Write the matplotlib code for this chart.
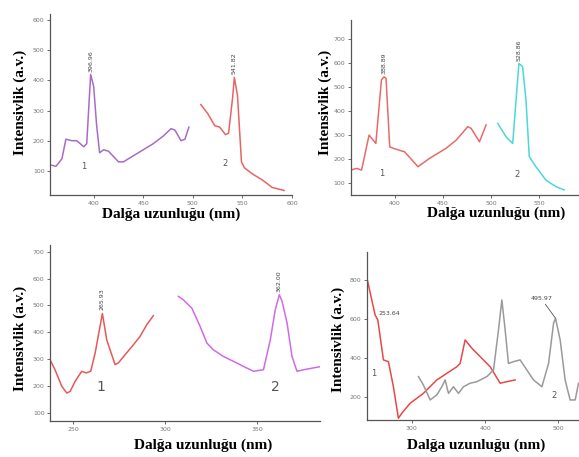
import matplotlib
matplotlib.use('Agg')
import matplotlib.pyplot as plt

# ── panel (a): two bands ──
a1_x = [356, 362, 368, 372, 378, 383, 390, 393, 396.96, 400, 403, 406, 410, 415,
        425, 430, 440, 460, 470, 478, 482, 488, 492, 496]
a1_y = [120, 115, 140, 205, 200, 200, 180, 190, 420, 380, 250, 160, 170, 165,
        130, 130, 150, 190, 215, 240, 235, 200, 205, 245]
a2_x = [508, 515, 522, 527, 533, 536, 540, 541.82, 545, 549, 552, 560, 570, 580, 592]
a2_y = [320, 290, 250, 245, 220, 225, 340, 410, 350, 130, 110, 90, 70, 45, 35]

# ── panel (b) ──
b1_x = [354.5, 360.4, 365.6, 373.4, 380.4, 386.2, 388.89, 391, 394.8, 398.2, 410.3,
        424.1, 436.2, 453.4, 463.8, 475.8, 479.3, 487.9, 494.8]
b1_y = [154, 161, 154, 300, 265, 530, 543, 536, 251, 245, 230, 168, 203, 245, 279,
        335, 328, 272, 342]
b2_x = [506.9, 515.5, 522.4, 528.86, 532.7, 536.2, 539.6, 546.5, 556.9, 567.2, 575.8]
b2_y = [349, 293, 265, 599, 585, 446, 210, 168, 112, 85, 71]

# ── panel (c) ──
c1_x = [237.5, 240.2, 243.9, 246.6, 248.4, 251.1, 254.7, 257.1, 259.6, 262, 265.93,
        268.3, 272.8, 274.6, 278.3, 282.8, 286.4, 290, 293.6]
c1_y = [298, 261, 199, 174, 180, 217, 255, 249, 255, 323, 470, 372, 280, 286, 317,
        354, 385, 428, 462]
c2_x = [307.2, 309.9, 314.5, 319, 322.7, 326.2, 331.7, 337.1, 342.6, 348, 353.4,
        357.1, 359.8, 362.0, 363.5, 366.2, 368.9, 371.6, 376.1, 384]
c2_y = [534, 521, 490, 422, 360, 335, 310, 292, 273, 255, 261, 372, 484, 540, 515,
        435, 310, 255, 262, 272]

# ── panel (d) ──
d1_x = [239.4, 245.4, 250, 253.64, 261.3, 268.1, 274.9, 281.7, 286.4, 297.7, 315.8,
        334.1, 347.7, 361.4, 365.9, 372.7, 381.9, 393.2, 406.8, 420.5, 429.6, 440.9]
d1_y = [800, 697, 620, 594, 389, 380, 251, 89, 115, 166, 217, 286, 320, 354, 371,
        492, 449, 406, 354, 269, 277, 286]
d2_x = [309.1, 315.8, 325, 334.1, 340.9, 345.4, 350, 356.8, 363.6, 370.4, 379.5,
        388.7, 402.3, 411.4, 418.2, 422.8, 427.3, 431.8, 438.6, 447.7, 456.9, 466,
        477.4, 486.5, 493.3, 495.97, 502.3, 509.1, 515.9, 522.8, 527.3]
d2_y = [303, 260, 183, 209, 251, 286, 217, 251, 217, 251, 269, 277, 303, 337, 543,
        697, 543, 371, 380, 389, 337, 286, 251, 371, 577, 603, 492, 286, 183, 183, 269]

TICK_COLOR = '#777777'
SPINE_COLOR = '#555555'
SERIF = ['Liberation Serif', 'DejaVu Serif']


def style_axes(ax, xlim, ylim, xticks, yticks):
    ax.set_xlim(*xlim)
    ax.set_ylim(*ylim)
    ax.set_xticks(xticks)
    ax.set_yticks(yticks)
    for side in ('top', 'right'):
        ax.spines[side].set_visible(False)
    for side in ('left', 'bottom'):
        ax.spines[side].set_color(SPINE_COLOR)
        ax.spines[side].set_linewidth(0.9)
    ax.tick_params(length=2, width=0.6, color=SPINE_COLOR, labelsize=4.5,
                   labelcolor=TICK_COLOR, pad=2)


def axis_labels(ax, ylab_pos, xlab_pos):
    ax.set_ylabel('Intensivlik (a.v.)', family=SERIF, fontweight='bold', fontsize=11)
    ax.yaxis.set_label_coords(*ylab_pos)
    ax.set_xlabel('Dalğa uzunluğu (nm)', family=SERIF, fontweight='bold', fontsize=11)
    ax.xaxis.set_label_coords(*xlab_pos)


def vpeak(ax, x, y, text, dy):
    ax.text(x, y + dy, text, rotation=90, fontsize=4.5, color='#444444',
            ha='center', va='bottom')


fig = plt.figure(figsize=(5.79, 4.57), dpi=100)

# (a)
ax = fig.add_axes([0.0864, 0.5733, 0.418, 0.396])
ax.plot(a1_x, a1_y, color='#a66cc8', lw=1.1)
ax.plot(a2_x, a2_y, color='#e86464', lw=1.1)
style_axes(ax, (356, 600), (20, 620), [400, 450, 500, 550, 600],
           [100, 200, 300, 400, 500, 600])
vpeak(ax, 396.96, 420, '396.96', 8)
vpeak(ax, 541.82, 410, '541.82', 10)
ax.text(390, 105, '1', fontsize=6, color='#555555', ha='center')
ax.text(532, 115, '2', fontsize=6, color='#555555', ha='center')
axis_labels(ax, (-0.095, 0.51), (0.5, -0.07))

# (b)
ax = fig.add_axes([0.606, 0.5733, 0.392, 0.383])
ax.plot(b1_x, b1_y, color='#e86a6a', lw=1.1)
ax.plot(b2_x, b2_y, color='#4ad8d8', lw=1.1)
style_axes(ax, (354.5, 590), (50, 780), [400, 450, 500, 550],
           [100, 200, 300, 400, 500, 600, 700])
vpeak(ax, 388.89, 543, '388.89', 10)
vpeak(ax, 528.86, 599, '528.86', 10)
ax.text(387, 130, '1', fontsize=6, color='#555555', ha='center')
ax.text(527, 125, '2', fontsize=6, color='#555555', ha='center')
axis_labels(ax, (-0.084, 0.53), (0.64, -0.063))

# (c)
ax = fig.add_axes([0.0864, 0.0788, 0.466, 0.385])
ax.plot(c1_x, c1_y, color='#e85858', lw=1.1)
ax.plot(c2_x, c2_y, color='#d06ae8', lw=1.1)
style_axes(ax, (237.5, 384), (70, 725), [250, 300, 350],
           [100, 200, 300, 400, 500, 600, 700])
vpeak(ax, 265.93, 470, '265.93', 12)
vpeak(ax, 362.0, 540, '362.00', 12)
ax.text(265, 180, '1', fontsize=10, color='#555555', ha='center')
ax.text(360, 183, '2', fontsize=10, color='#555555', ha='center')
axis_labels(ax, (-0.085, 0.47), (0.567, -0.10))

# (d)
ax = fig.add_axes([0.634, 0.081, 0.366, 0.368])
ax.plot(d1_x, d1_y, color='#e84848', lw=1.1)
ax.plot(d2_x, d2_y, color='#9a9a9a', lw=1.1)
style_axes(ax, (239, 528), (80, 945), [300, 400, 500], [200, 400, 600, 800])
ax.annotate('253.64', xy=(253.64, 600), xytext=(255, 615), fontsize=4.5,
            color='#444444', va='bottom')
ax.annotate('495.97', xy=(495.97, 603), xytext=(462, 690), fontsize=4.5,
            color='#444444', va='bottom',
            arrowprops=dict(arrowstyle='-', color='#555555', lw=0.6,
                            shrinkA=0, shrinkB=0))
ax.text(248, 305, '1', fontsize=6, color='#555555', ha='center')
ax.text(494, 195, '2', fontsize=6, color='#555555', ha='center')
axis_labels(ax, (-0.104, 0.48), (0.514, -0.11))

fig.savefig('out.png', dpi=100)
